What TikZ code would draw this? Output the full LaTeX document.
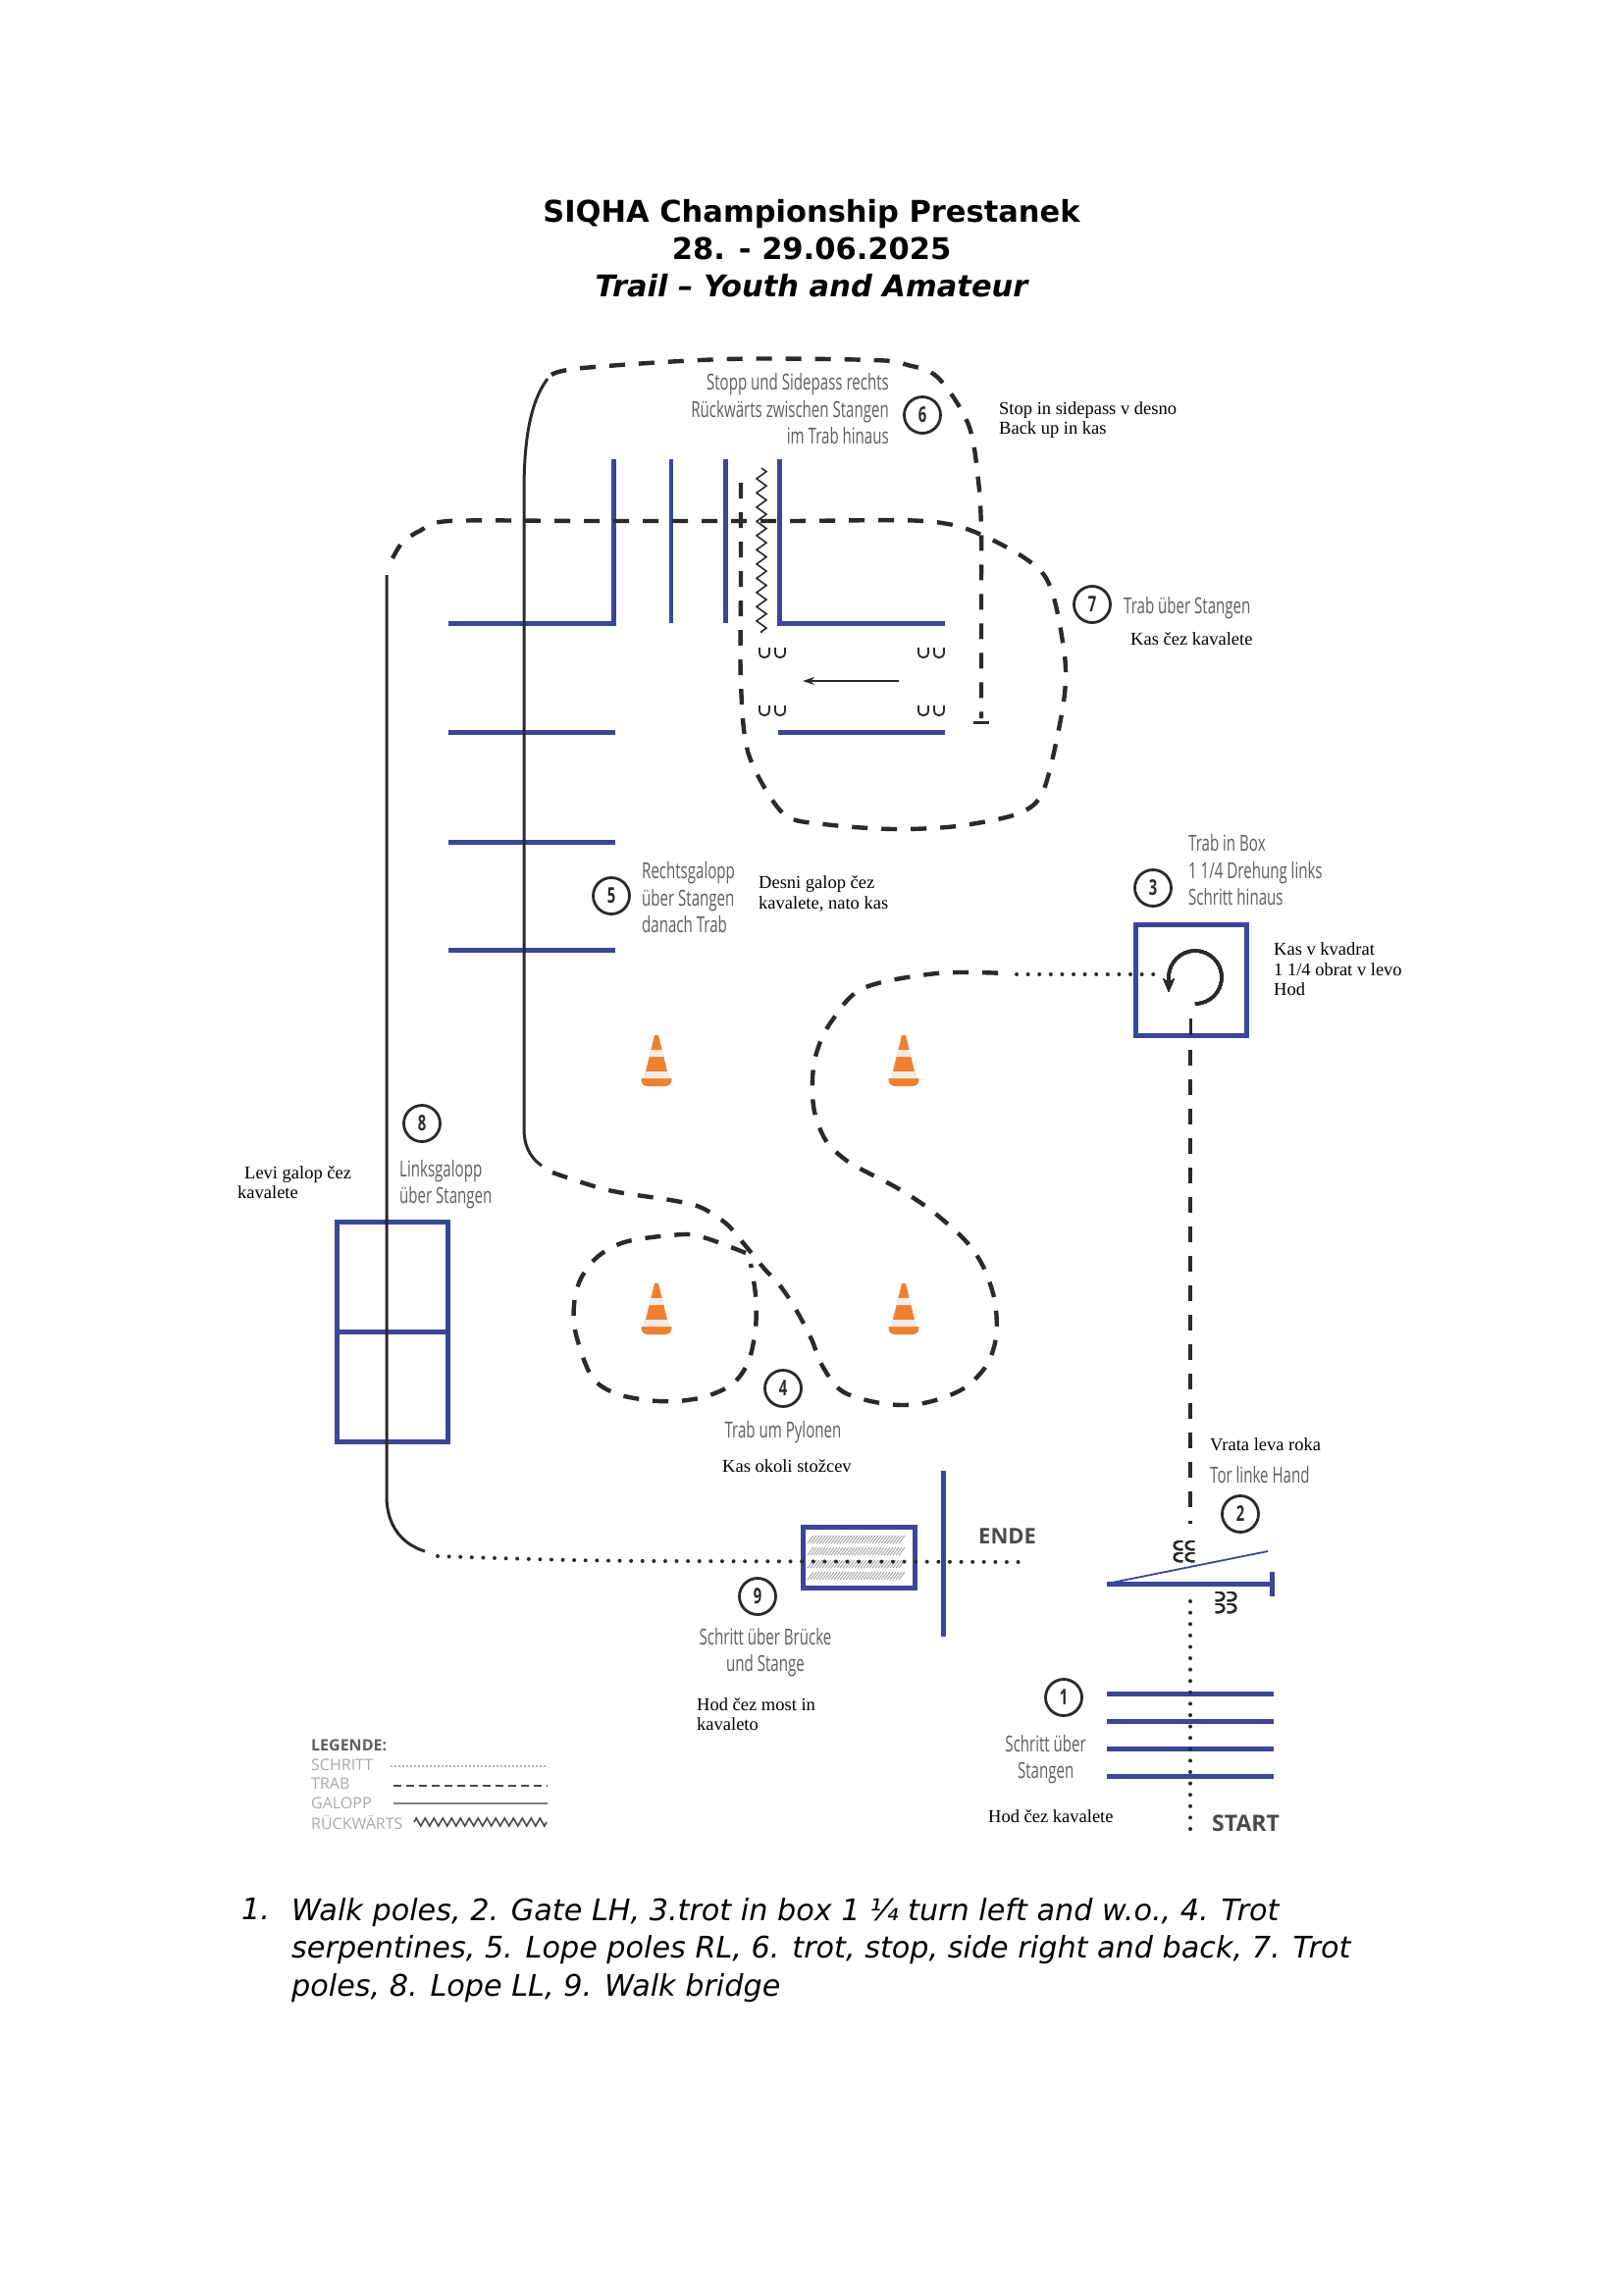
\documentclass[tikz,border=0pt]{standalone}
\usepackage{fontspec}
\usetikzlibrary{decorations.pathmorphing,arrows.meta}
\setmainfont{Liberation Serif}
\newfontfamily\titlefont{DejaVu Sans}
\newfontfamily\defont[FakeStretch=0.67]{Open Sans}
\newfontfamily\plainsans{Open Sans}
\definecolor{poleblue}{HTML}{3B4696}
\definecolor{ink}{HTML}{2A2A2A}
\definecolor{degray}{HTML}{5E5E5E}
\definecolor{legray}{HTML}{A8A8A8}
\definecolor{coneorange}{HTML}{EE8030}
\definecolor{conewhite}{HTML}{F1ECE6}
\tikzset{
  pole/.style={draw=poleblue,line width=5},
  thinpole/.style={draw=poleblue,line width=1.8},
  trot/.style={draw=ink,line width=4.4,dash pattern=on 16pt off 14pt},
  walk/.style={draw=ink,line width=4,line cap=round,dash pattern=on 0pt off 11.6pt},
  lope/.style={draw=ink,line width=3},
  shoeline/.style={draw=ink,line width=1.8},
  numcirc/.style={circle,draw=ink,line width=2.8,minimum size=37,inner sep=0,font=\defont\bfseries\fontsize{22}{22}\selectfont,text=ink},
  detext/.style={font=\defont\fontsize{22.5}{27.5}\selectfont,text=degray,inner sep=0},
  sltext/.style={font=\fontsize{18.5}{20.5}\selectfont,text=black,inner sep=0},
  lgtext/.style={font=\plainsans\fontsize{16}{16}\selectfont,text=legray,inner sep=0,anchor=west},
  marktext/.style={font=\plainsans\bfseries\fontsize{22}{22}\selectfont,text=ink!85,inner sep=0},
  conepic/.pic={
    \fill[coneorange] (-2,0) -- (2,0) -- (13.5,47) -- (-13.5,47) -- cycle;
    \fill[conewhite] (-6,15) -- (6,15) -- (7.8,22) -- (-7.8,22) -- cycle;
    \fill[conewhite] (-11,37) -- (11,37) -- (13,44) -- (-13,44) -- cycle;
    \fill[coneorange] (-15.3,44) .. controls (-16,48) and (-14,52) .. (-9,52) -- (9,52) .. controls (14,52) and (16,48) .. (15.3,44) -- cycle;
    \fill[conewhite] (-12.5,40) -- (12.5,40) -- (13.5,44) -- (-13.5,44) -- cycle;
  }
}
\newcommand\shoe[3]{\draw[shoeline,shift={(#1,#2)},rotate=#3] (-5,-5) -- (-5,0) .. controls (-5,7) and (5,7) .. (5,0) -- (5,-5);}
\begin{document}
\begin{tikzpicture}[x=1pt,y=-1pt]
\useasboundingbox (0,0) rectangle (1654,2339);
% title
\node[font=\titlefont\bfseries\fontsize{30.5}{38}\selectfont,align=center,inner sep=0] (title) at (827,253)
  {SIQHA Championship Prestanek\\28. - 29.06.2025\\\itshape Trail – Youth and Amateur};
% poles 6/7 box
\draw[pole] (625,468) -- (625,635) -- (456.5,635);
\draw[pole,line width=4] (683.6,468) -- (683.6,635);
\draw[pole] (739,468) -- (739,635);
\draw[pole] (794,468) -- (794,635) -- (963,635);
\draw[pole] (793,746) -- (963,746);
\foreach \yy in {746,858,968} \draw[pole] (456.5,\yy) -- (627,\yy);
% lope poles 8
\draw[pole] (343,1245) rectangle (456,1469);
\draw[pole] (343,1357) -- (456,1357);
% cones
\pic at (669,1055) {conepic};
\pic at (921,1055) {conepic};
\pic at (669,1308) {conepic};
\pic at (921,1308) {conepic};
% box 3
\draw[pole] (1157,942) rectangle (1270,1055);
% bridge
\foreach \ya/\yb in {1565/1573,1577/1585,1590/1598,1602/1610}
  \foreach \xx in {823,826,...,918}
    \draw[gray!75,line width=0.9] (\xx,\yb) -- ({\xx+6},\ya);
\draw[pole] (818,1556) rectangle (932,1618);
\draw[pole] (961,1499) -- (961,1668);
% gate
\draw[pole] (1128,1614) -- (1296,1614);
\draw[pole] (1296,1602) -- (1296,1627);
\draw[thinpole] (1128,1614) -- (1292,1581);
% start poles
\foreach \yy in {1726,1754,1782,1810} \draw[pole] (1128,\yy) -- (1298,\yy);
% paths: walk
\draw[walk] (1213,1632) -- (1213,1866);
\draw[walk] (446,1586) .. controls (560,1590) and (620,1591) .. (688,1591) -- (1046,1592);
\draw[walk] (1036,993) -- (1176,993);
% trot 1
\draw[trot] (1213,1070) -- (1213,1553);
\draw[draw=ink,line width=3] (1213,1038) -- (1213,1055);
% lope 1 (to the top and to serpentine)
\draw[lope] (558,386) .. controls (540,410) and (534,450) .. (534,500) -- (534,1150) .. controls (534,1165) and (538,1178) .. (552,1188);
% trot serpentine
\draw[trot] plot[smooth,tension=0.55] coordinates {(563,1195) (620,1213) (683,1223) (713,1230) (740,1247) (760,1270) (778,1292) (797,1313) (813,1338) (827,1365) (838,1392) (857,1417) (887,1428) (920,1432) (950,1428) (982,1415) (1005,1392) (1015,1363) (1014,1327) (1003,1293) (987,1268) (963,1245) (940,1227) (913,1210) (888,1197) (863,1183) (842,1163) (830,1133) (828,1100) (833,1070) (848,1040) (880,1007) (955,992) (1025,992)};
\draw[trot] plot[smooth,tension=0.55] coordinates {(760,1277) (720,1262) (697,1258) (640,1265) (610,1280) (592,1303) (585,1330) (587,1360) (603,1403) (627,1420) (660,1427) (690,1428) (720,1423) (747,1410) (763,1387) (770,1353) (770,1320) (765,1288)};
% trot upper 6
\draw[trot] plot[smooth,tension=0.55] coordinates {(562,382) (594,375) (740,366) (890,367) (925,372) (956,385) (987,433) (997,490) (1000,540) (1000,600) (1000,732)};
\draw[draw=ink,line width=3] (992,736) -- (1008,736);
% trot 7
\draw[trot] plot[smooth,tension=0.5] coordinates {(400,569) (410,553) (428,541) (458,531) (600,531) (800,531) (941,531) (1000,545) (1064,586) (1084,661) (1084,715) (1064,804) (1038,829) (975,842) (910,845) (840,840) (798,829) (763,769) (755,697) (755,600) (755,481)};
% lope 2
\draw[lope] (394,586) -- (394,1525) .. controls (394,1555) and (410,1574) .. (433,1581);
% back-up zigzag
\draw[draw=ink,line width=1.6,decorate,decoration={zigzag,amplitude=5,segment length=14.5}] (776,477) -- (776,645);
% arrow
\draw[draw=ink,line width=1.8,-{Stealth[length=12,width=8]}] (916,694) -- (818,694);
% shoes
\foreach \xx in {779,795,941,957} \foreach \yy in {665,724} \shoe{\xx}{\yy}{0}
\foreach \yy in {1575,1587} {\shoe{1201}{\yy}{-90,scale=.82}\shoe{1213}{\yy}{-90,scale=.82}}
\foreach \yy in {1627,1639} {\shoe{1243}{\yy}{90,scale=.82}\shoe{1255}{\yy}{90,scale=.82}}
% turn arrow
\draw[draw=ink,line width=3.2,-{Stealth[length=14,width=12]}] (1218,1023) arc[start angle=90,end angle=-180,radius=27] -- (1191,1011);
% circles
\node[numcirc] (c1) at (1084,1730) {1};
\node[numcirc] (c2) at (1264,1543) {2};
\node[numcirc] (c3) at (1175,905) {3};
\node[numcirc] (c4) at (798,1415) {4};
\node[numcirc] (c5) at (623,913) {5};
\node[numcirc] (c6) at (940,423) {6};
\node[numcirc] (c7) at (1113,616) {7};
\node[numcirc] (c8) at (430,1145) {8};
\node[numcirc] (c9) at (772,1627) {9};
% German
\node[detext,align=right,anchor=east] (d6) at (906,417) {Stopp und Sidepass rechts\\Rückwärts zwischen Stangen\\im Trab hinaus};
\node[detext,anchor=west] (d7) at (1145,620) {Trab über Stangen};
\node[detext,align=left,anchor=west] (d3) at (1211,887) {Trab in Box\\1 1/4 Drehung links\\Schritt hinaus};
\node[detext,align=left,anchor=west] (d5) at (654,915) {Rechtsgalopp\\über Stangen\\danach Trab};
\node[detext,align=left,anchor=west] (d8) at (407,1207) {Linksgalopp\\über Stangen};
\node[detext,anchor=center] (d4) at (798,1460) {Trab um Pylonen};
\node[detext,anchor=west] (d2) at (1233,1503) {Tor linke Hand};
\node[detext,align=center,anchor=center] (d9) at (780,1684) {Schritt über Brücke\\und Stange};
\node[detext,align=center,anchor=east] (d1) at (1107,1793) {Schritt über\\Stangen};
% Slovene
\node[sltext,align=left,anchor=west] (s6) at (1018,428) {Stop in sidepass v desno\\Back up in kas};
\node[sltext,anchor=west] (s7) at (1152,651) {Kas čez kavalete};
\node[sltext,align=left,anchor=west] (s3) at (1298,988) {Kas v kvadrat\\1 1/4 obrat v levo\\Hod};
\node[sltext,align=left,anchor=west] (s5) at (773,911) {Desni galop čez\\kavalete, nato kas};
\node[sltext,align=left,anchor=west] (s8) at (242,1205) {\hspace*{7pt}Levi galop čez\\kavalete};
\node[sltext,anchor=west] (s4) at (736,1494) {Kas okoli stožcev};
\node[sltext,anchor=west] (s2) at (1233,1472) {Vrata leva roka};
\node[sltext,align=left,anchor=west] (s9) at (710,1747) {Hod čez most in\\kavaleto};
\node[sltext,anchor=west] (s1) at (1007,1851) {Hod čez kavalete};
% marks
\node[marktext,anchor=west] (ende) at (997,1566) {ENDE};
\node[marktext,anchor=west,font=\plainsans\bfseries\fontsize{23}{23}\selectfont] (start) at (1235,1858) {START};
% legend
\node[lgtext,text=ink!75,font=\plainsans\bfseries\fontsize{16}{16}\selectfont] (lg0) at (317,1779) {LEGENDE:};
\node[lgtext] (lg1) at (317,1799) {SCHRITT};
\node[lgtext] (lg2) at (317,1818) {TRAB};
\node[lgtext] (lg3) at (317,1838) {GALOPP};
\node[lgtext] (lg4) at (317,1857) {RÜCKWÄRTS};
\draw[draw=ink!75,line width=1.8,line cap=round,dash pattern=on 0pt off 4pt] (399,1800) -- (558,1800);
\draw[draw=ink!85,line width=2.2,dash pattern=on 8pt off 5pt] (401,1820) -- (558,1820);
\draw[draw=ink!60,line width=2] (401,1838) -- (558,1838);
\draw[draw=ink!85,line width=1.6,decorate,decoration={zigzag,amplitude=4,segment length=9}] (422,1857) -- (557,1857);
% list
\node[font=\titlefont\itshape\fontsize{30.25}{39}\selectfont,inner sep=0,anchor=base west] (n1) at (246,1956) {1.};
\node[font=\titlefont\itshape\fontsize{30.25}{38.5}\selectfont,inner sep=0,align=left,anchor=north west] (list) at (297,1934)
  {Walk poles, 2. Gate LH, 3.trot in box 1 ¼ turn left and w.o., 4. Trot\\serpentines, 5. Lope poles RL, 6. trot, stop, side right and back, 7. Trot\\poles, 8. Lope LL, 9. Walk bridge};
\end{tikzpicture}
\end{document}
